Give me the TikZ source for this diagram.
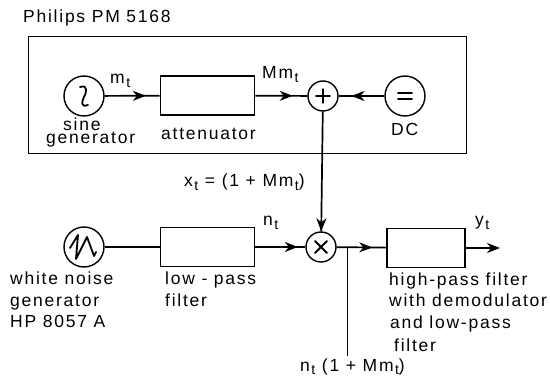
\documentclass[tikz,border=0pt]{standalone}
\usepackage{fontspec}
\setmainfont[LetterSpace=10]{Liberation Sans}
\usetikzlibrary{arrows.meta,decorations.markings,calc}
\newcommand{\subt}{\hspace{1.5pt}\raisebox{-3.5pt}{\fontsize{14}{14}\selectfont t}}
\tikzset{
  x=1pt,y=-1pt,
  wire/.style={line width=1.7pt},
  thinwire/.style={line width=0.9pt},
  blockbox/.style={draw,line width=1.7pt,minimum width=94pt,minimum height=39pt,inner sep=0pt,anchor=center},
  gen/.style={draw,circle,line width=1.4pt,minimum size=40pt,inner sep=0pt},
  junction/.style={draw,circle,line width=1.4pt,minimum size=30pt,inner sep=0pt},
  lbl/.style={inner sep=0pt,anchor=base west,font=\fontsize{17.5}{17.5}\selectfont},
  midtip/.style={postaction={decorate,decoration={markings,mark=at position #1 with {\arrow{Stealth[length=13pt,width=10pt,inset=4pt]}}}}},
  glyph/.style={line width=1.8pt,line cap=round,line join=round},
}
\begin{document}
\begin{tikzpicture}
\useasboundingbox (0,0) rectangle (550,379);
% instrument frame
\node[draw,line width=0.9pt,minimum width=438pt,minimum height=117pt,inner sep=0pt] (frame) at (247,94.5) {};
% generators and blocks
\node[gen] (sine) at (84,96) {};
\node[blockbox] (att) at (207.5,95.5) {};
\node[junction] (plus) at (323,96) {};
\node[gen] (dc) at (405,96) {};
\node[gen] (noise) at (84,247) {};
\node[blockbox] (lpf) at (207.5,247) {};
\node[junction] (times) at (321,247) {};
\node[blockbox,minimum width=78pt] (hpf) at (426,248) {};
\coordinate (tap) at (347,247);
\coordinate (tapend) at (347,356);
\coordinate (out) at (500,248);
% glyphs in circles
\draw[glyph] ($(sine)+(-4,-9)$) .. controls ($(sine)+(5,-12)$) and ($(sine)+(2,-2)$) .. ($(sine)+(0,1)$) .. controls ($(sine)+(-2,5)$) and ($(sine)+(-4,12)$) .. ($(sine)+(4,9)$);
\draw[glyph] ($(noise)+(-14,1)$) -- ($(noise)+(-6,-12)$) -- ($(noise)+(-8,12)$) -- ($(noise)+(3,-10)$) -- ($(noise)+(10,9)$) -- ($(noise)+(12,5)$);
\draw[glyph] ($(plus)+(-7,0)$) -- ($(plus)+(7,0)$) ($(plus)+(0,-7)$) -- ($(plus)+(0,7)$);
\draw[glyph] ($(times)+(-6,-6)$) -- ($(times)+(6,6)$) ($(times)+(-6,6)$) -- ($(times)+(6,-6)$);
\draw[glyph] ($(dc)+(-7,-3)$) -- ($(dc)+(7,-3)$) ($(dc)+(-7,3)$) -- ($(dc)+(7,3)$);
% connectors
\draw[wire,midtip=0.75] (sine) -- (att);
\draw[wire,midtip=0.72] (att) -- (plus);
\draw[wire,midtip=0.72] (dc) -- (plus);
\draw[wire,midtip=1] (plus) -- (times);
\draw[line width=1.3pt] (noise) -- (lpf);
\draw[wire,midtip=0.85] (lpf) -- (times);
\draw[wire,midtip=0.72] (times) -- (hpf);
\draw[wire,-{Stealth[length=13pt,width=10pt,inset=4pt]}] (hpf) -- (out);
\draw[thinwire] (tap) -- (tapend);
% labels
\node[lbl] (tphil) at (23,23) {Philips PM 5168};
\node[lbl] (tm) at (110,84) {m\subt};
\node[lbl] (tmm) at (262,79) {Mm\subt};
\node[lbl] (tsine) at (63,131) {sine};
\node[lbl] (tgen) at (46,144) {generator};
\node[lbl] (tatt) at (161,140) {attenuator};
\node[lbl] (tdc) at (391,136) {DC};
\node[lbl] (tx) at (184,187) {x\subt\ = (1 + Mm\subt)};
\node[lbl] (tn) at (263,226) {n\subt};
\node[lbl] (ty) at (475,226) {y\subt};
\node[lbl] (tw1) at (10,285) {white noise};
\node[lbl] (tw2) at (10,307) {generator};
\node[lbl] (tw3) at (10,328) {HP 8057 A};
\node[lbl] (tl1) at (165,285) {low - pass};
\node[lbl] (tl2) at (165,307) {filter};
\node[lbl] (th1) at (389,286) {high-pass filter};
\node[lbl] (th2) at (389,307) {with demodulator};
\node[lbl] (th3) at (390,329) {and low-pass};
\node[lbl] (th4) at (394,352) {filter};
\node[lbl] (tres) at (300,372) {n\hspace{1.5pt}\raisebox{-2.5pt}{\fontsize{14}{14}\selectfont t}\ (1 + Mm\hspace{1.5pt}\raisebox{-2.5pt}{\fontsize{14}{14}\selectfont t})};
\end{tikzpicture}
\end{document}
